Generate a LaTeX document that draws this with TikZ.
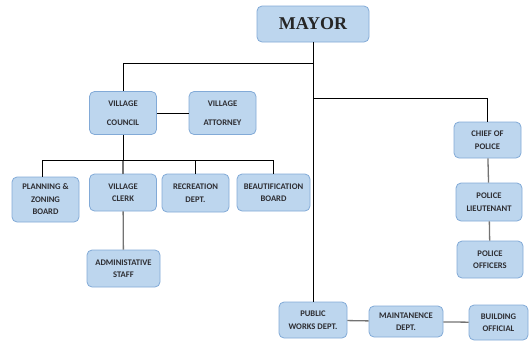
\documentclass[tikz,border=0pt]{standalone}
\usepackage{fontspec}
\setmainfont{Carlito}
\newfontfamily\mayorfont{Liberation Serif}
\definecolor{boxfill}{RGB}{189,214,238}
\definecolor{boxline}{RGB}{130,170,215}
\definecolor{txt}{RGB}{45,45,50}
\begin{document}
\begin{tikzpicture}[x=1pt,y=-1pt,
  box/.style={draw=boxline,fill=boxfill,rounded corners=5pt,line width=0.8pt,
    align=center,inner sep=0pt,text=txt,font=\bfseries\fontsize{8.6}{12.5}\selectfont},
  conn/.style={draw=black,line width=1pt},
  connG/.style={draw=black!55,line width=1.3pt}]
\useasboundingbox (0,0) rectangle (530,341);
% nodes
\node[box,minimum width=112pt,minimum height=36pt,font=\mayorfont\bfseries\fontsize{18}{20}\selectfont,text=black!85] (mayor) at (313,24) {MAYOR};
\node[box,minimum width=67pt,minimum height=43pt,font=\bfseries\fontsize{8.6}{19.5}\selectfont] (council) at (123,113) {VILLAGE\\COUNCIL};
\node[box,minimum width=67pt,minimum height=43pt,font=\bfseries\fontsize{8.6}{19.5}\selectfont] (attorney) at (222.5,113) {VILLAGE\\ATTORNEY};
\node[box,minimum width=67pt,minimum height=36pt] (chief) at (487.5,140) {CHIEF OF\\POLICE};
\node[box,minimum width=67pt,minimum height=45pt] (planning) at (45.5,199.5) {PLANNING \&\\ZONING\\BOARD};
\node[box,minimum width=67pt,minimum height=37pt] (clerk) at (123,192.5) {VILLAGE\\CLERK};
\node[box,minimum width=67pt,minimum height=38pt] (recreation) at (195.5,193) {RECREATION\\DEPT.};
\node[box,minimum width=73pt,minimum height=37pt] (beaut) at (273.5,192.5) {BEAUTIFICATION\\BOARD};
\node[box,minimum width=73pt,minimum height=37pt] (admin) at (123.5,268.5) {ADMINISTATIVE\\STAFF};
\node[box,minimum width=66pt,minimum height=38pt] (lieut) at (489,202) {POLICE\\LIEUTENANT};
\node[box,minimum width=66pt,minimum height=37pt] (officers) at (490,259.5) {POLICE\\OFFICERS};
\node[box,minimum width=68pt,minimum height=36pt] (pw) at (313,320) {PUBLIC\\WORKS DEPT.};
\node[box,minimum width=74pt,minimum height=31pt] (maint) at (406,321.5) {MAINTANENCE\\DEPT.};
\node[box,minimum width=59pt,minimum height=35pt] (building) at (498.5,322.5) {BUILDING\\OFFICIAL};
% junctions
\coordinate (j1) at (313,63);
\coordinate (j2) at (313,98);
\coordinate (bus) at (123,160);
% connectors
\draw[conn] (mayor) -- (pw);
\draw[conn] (j1) -| (council);
\draw[conn] (j2) -| (chief);
\draw[conn] (council) -- (attorney);
\draw[conn] (council) -- (bus);
\draw[connG] (bus) -- (clerk);
\draw[conn] ([xshift=-3pt]planning.north) |- (beaut.north |- bus) -- (beaut.north);
\draw[conn] (recreation.north |- bus) -- (recreation.north);
\draw[connG] (clerk) -- (admin);
\draw[connG] (chief) -- (lieut);
\draw[connG] (lieut) -- (officers);
\draw[connG] (pw) -- (maint);
\draw[connG] (maint) -- (building);
\end{tikzpicture}
\end{document}
